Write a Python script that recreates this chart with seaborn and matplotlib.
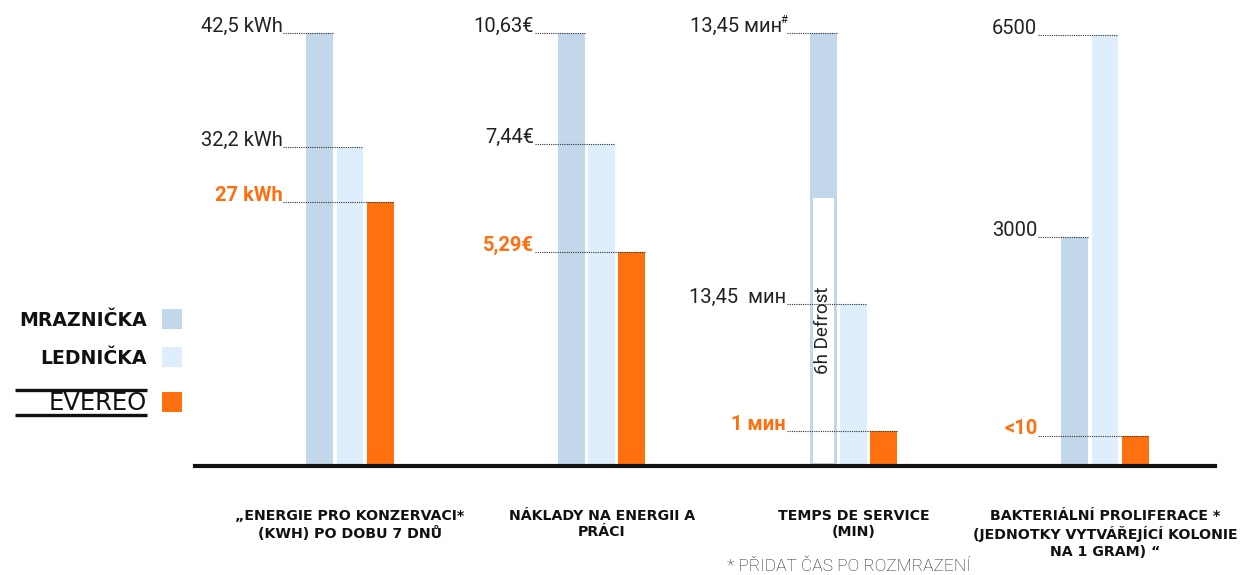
import matplotlib
matplotlib.use("Agg")
import matplotlib.pyplot as plt
import seaborn as sns
import pandas as pd
from matplotlib.lines import Line2D
from matplotlib.patches import Rectangle

# ---------------- data ----------------
categories = [
    "„ENERGIE PRO KONZERVACI*\n(KWH) PO DOBU 7 DNŮ",
    "NÁKLADY NA ENERGII A\nPRÁCI",
    "TEMPS DE SERVICE\n(MIN)",
    "BAKTERIÁLNÍ PROLIFERACE *\n(JEDNOTKY VYTVÁŘEJÍCÍ KOLONIE\nNA 1 GRAM) “",
]
series = ["MRAZNIČKA", "LEDNIČKA", "EVEREO"]

# visual bar heights (percent of the tallest bar)
freezer_heights = [100.0, 100.0, 100.0, 52.8]
fridge_heights = [73.6, 74.3, 37.3, 99.5]
evereo_heights = [60.9, 49.3, 7.9, 6.9]

freezer_labels = ["42,5 kWh", "10,63€", "13,45 мин", "3000"]
fridge_labels = ["32,2 kWh", "7,44€", "13,45  мин", "6500"]
evereo_labels = ["27 kWh", "5,29€", "1 мин", "<10"]
freezer_marks = ["", "", "#", ""]

defrost_group = 2
defrost_top = 61.8
defrost_text = "6h Defrost"
footnote = "* PŘIDAT ČAS PO ROZMRAZENÍ"

colors = ["#C2D7EA", "#DFEEFC", "#FF700F"]
orange_text = "#FF6F0F"

# ---------------- build table ----------------
rows = []
for s, hs in zip(series, [freezer_heights, fridge_heights, evereo_heights]):
    for c, h in zip(categories, hs):
        rows.append({"category": c, "series": s, "height": h})
df = pd.DataFrame(rows)

sns.set_theme(style="white")
plt.rcParams["font.family"] = ["Roboto", "DejaVu Sans"]

W, H = 1241, 575
fig = plt.figure(figsize=(W / 100, H / 100), dpi=100)
ax = fig.add_axes([195 / W, (H - 465.5) / H, (1215 - 195) / W, 432.5 / H])

sns.barplot(data=df, x="category", y="height", hue="series",
            order=categories, hue_order=series, palette=colors,
            width=0.36, gap=0.11, saturation=1, legend=False, ax=ax,
            errorbar=None, linewidth=0)

ax.set_xlim(-0.616, 3.437)
ax.set_ylim(0, 100)
for sp in ["top", "left", "right"]:
    ax.spines[sp].set_visible(False)
ax.spines["bottom"].set_linewidth(3)
ax.spines["bottom"].set_color("#111111")
ax.spines["bottom"].set_zorder(5)
ax.set_xlabel("")
ax.set_ylabel("")
ax.set_yticks([])
ax.tick_params(axis="x", length=0, pad=31)
for t in ax.get_xticklabels():
    t.set_fontfamily(["DejaVu Sans"])
    t.set_fontweight("bold")
    t.set_fontsize(10.2)
    t.set_color("#111111")
    t.set_linespacing(1.25)

px = 1.0 / 251.7  # data units per pixel horizontally
txt_family = ["Roboto", "DejaVu Sans"]

all_labels = [freezer_labels, fridge_labels, evereo_labels]
for i in range(len(categories)):
    left = ax.containers[0][i].get_x()
    lx = left - 24 * px
    for j in range(len(series)):
        bar = ax.containers[j][i]
        h = bar.get_height()
        right = bar.get_x() + bar.get_width()
        ax.plot([lx + 1 * px, right], [h, h], linestyle=(0, (1, 1)),
                lw=0.8, color="#333333", clip_on=False, zorder=3)
        if j == 2:
            ax.text(lx, h + 0.3, all_labels[j][i], ha="right", va="baseline",
                    fontsize=14.5, fontweight="bold", color=orange_text,
                    family=txt_family)
        else:
            label = all_labels[j][i]
            x_end = lx
            if j == 0 and freezer_marks[i]:
                ax.text(lx + 2 * px, h + 2.2, freezer_marks[i], ha="right",
                        va="baseline", fontsize=8, color="#111111",
                        family=txt_family)
                x_end = lx - 4 * px
            ax.text(x_end, h + 0.3, label, ha="right", va="baseline",
                    fontsize=14.5, fontweight="normal", color="#222222",
                    family=txt_family)

# defrost inset
fb = ax.containers[0][defrost_group]
inset = 3 * px
ax.bar(fb.get_x() + fb.get_width() / 2, defrost_top - 0.6, bottom=0.6,
       width=fb.get_width() - 2 * inset, color="white", linewidth=0,
       zorder=2)
ax.text(fb.get_x() + fb.get_width() / 2, 31.3, defrost_text, rotation=90,
        ha="center", va="center", fontsize=13.5, fontweight="normal",
        color="#222222", zorder=4, family=txt_family)

# legend
sq_x = 162 / W
sq_w = 20 / W
sq_h = 20 / H
legend_y = [319, 357, 402]
for k, (s, c, yc) in enumerate(zip(series, colors, legend_y)):
    fig.add_artist(Rectangle((sq_x, (H - yc) / H - sq_h / 2), sq_w, sq_h,
                             facecolor=c, edgecolor="none",
                             transform=fig.transFigure))
    if k < 2:
        fig.text(147 / W, (H - yc - 1) / H, s, ha="right", va="center",
                 fontsize=13.6, fontweight="bold", color="#111111",
                 family=["DejaVu Sans"])
    else:
        fig.text(147 / W, (H - yc - 1) / H, s, ha="right", va="center",
                 fontsize=17.5, fontweight="normal", color="#111111",
                 family=["DejaVu Sans"])
        for ly in [389.5, 415]:
            fig.add_artist(Line2D([15 / W, 147 / W], [(H - ly) / H] * 2,
                                  lw=2.4, color="#111111",
                                  solid_capstyle="butt",
                                  transform=fig.transFigure))

fig.text(727 / W, (H - 566) / H, footnote, ha="left", va="center",
         fontsize=12.5, fontweight="light", color="#222222",
         family=txt_family)

fig.savefig("out.png", dpi=100)
